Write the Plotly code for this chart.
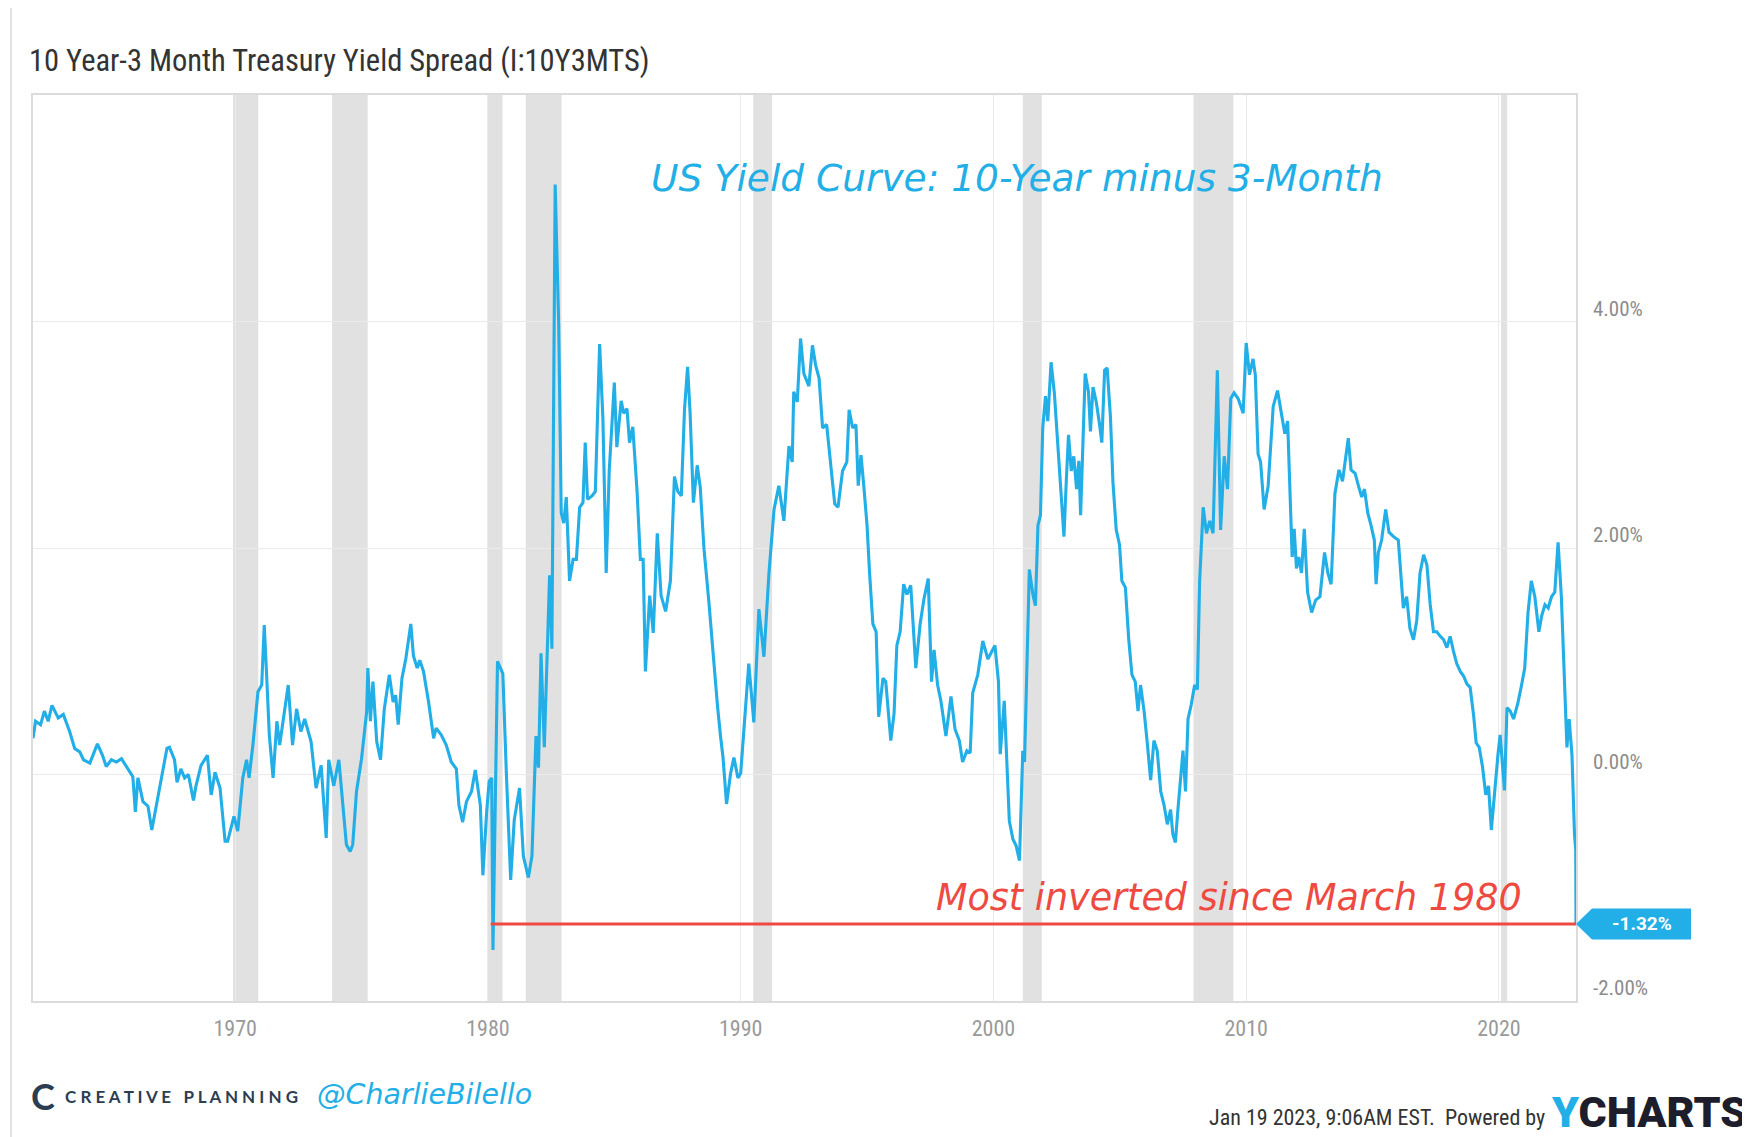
import datetime as dt
import plotly.graph_objects as go

# ---------------- data ----------------
YEARS = [
    1962.0, 1962.1, 1962.3, 1962.45, 1962.6, 1962.75, 1963.0, 1963.2, 1963.45, 1963.65, 1963.85,
    1964.0, 1964.25, 1964.55, 1964.75, 1964.9, 1965.1, 1965.3, 1965.5, 1965.75, 1965.95, 1966.05,
    1966.15, 1966.35, 1966.55, 1966.7, 1966.95, 1967.3, 1967.4, 1967.6, 1967.7, 1967.85, 1968.0,
    1968.15, 1968.35, 1968.45, 1968.65, 1968.9, 1969.05, 1969.2, 1969.4, 1969.6, 1969.7, 1969.95,
    1970.1, 1970.3, 1970.45, 1970.55, 1970.7, 1970.9, 1971.05, 1971.15, 1971.25, 1971.35, 1971.5,
    1971.65,
    1971.76, 1972.1, 1972.27, 1972.43, 1972.6, 1972.75, 1973.0, 1973.2, 1973.4, 1973.6, 1973.7,
    1973.9, 1974.1, 1974.3, 1974.4, 1974.55, 1974.65, 1974.8, 1975.0, 1975.2, 1975.25, 1975.35,
    1975.45, 1975.6, 1975.75, 1975.9, 1976.1, 1976.25, 1976.35, 1976.45, 1976.6, 1976.75, 1976.95,
    1977.05, 1977.2, 1977.3, 1977.45, 1977.65, 1977.85, 1977.95, 1978.15, 1978.35, 1978.55,
    1978.75, 1978.85, 1979.0, 1979.15, 1979.35, 1979.5, 1979.7, 1979.8, 1979.95, 1980.05,
    1980.15, 1980.2, 1980.38, 1980.59, 1980.73, 1980.9, 1981.04, 1981.25, 1981.4, 1981.6, 1981.74,
    1981.9, 1982.0, 1982.1, 1982.23, 1982.33, 1982.44, 1982.53, 1982.66, 1982.8, 1982.9, 1983.0,
    1983.1, 1983.23, 1983.37, 1983.5, 1983.63, 1983.76, 1983.85, 1983.94, 1984.12, 1984.25,
    1984.42, 1984.55, 1984.68, 1984.8, 1985.0, 1985.1, 1985.27, 1985.37, 1985.5, 1985.6, 1985.73,
    1985.9, 1986.03, 1986.14, 1986.23, 1986.4, 1986.54, 1986.7, 1986.85, 1987.03, 1987.22,
    1987.38, 1987.51, 1987.65, 1987.78, 1987.9, 1988.0, 1988.13, 1988.28, 1988.4, 1988.55,
    1988.74, 1988.92, 1989.08, 1989.2, 1989.3, 1989.44, 1989.6, 1989.73, 1989.89,
    1990.0, 1990.15, 1990.32, 1990.52, 1990.72, 1990.92, 1991.12, 1991.32, 1991.51, 1991.71,
    1991.91, 1992.04, 1992.1, 1992.24, 1992.37, 1992.5, 1992.7, 1992.84, 1992.97, 1993.1,
    1993.24, 1993.4, 1993.56, 1993.72, 1993.85, 1994.03, 1994.2, 1994.29, 1994.43, 1994.56,
    1994.65, 1994.76, 1994.87, 1995.0, 1995.1, 1995.23, 1995.36, 1995.46, 1995.63, 1995.74,
    1995.94, 1996.07, 1996.18, 1996.31, 1996.45, 1996.58, 1996.73, 1996.93, 1997.1, 1997.25,
    1997.42, 1997.55, 1997.65, 1997.79, 1997.92, 1998.12, 1998.32, 1998.48, 1998.65, 1998.78,
    1998.95, 1999.08, 1999.18, 1999.38, 1999.58, 1999.78, 1999.9,
    2000.06, 2000.2, 2000.27, 2000.43, 2000.54, 2000.63, 2000.77, 2000.9, 2001.03, 2001.16,
    2001.23, 2001.29, 2001.42, 2001.56, 2001.66, 2001.76, 2001.86, 2001.95, 2002.06, 2002.15,
    2002.28, 2002.41, 2002.55, 2002.68, 2002.79, 2002.88, 2002.97, 2003.08, 2003.18, 2003.29,
    2003.38, 2003.45, 2003.54, 2003.63, 2003.76, 2003.84, 2003.94, 2004.07, 2004.2, 2004.29,
    2004.4, 2004.5, 2004.63, 2004.73, 2004.86, 2004.99, 2005.08, 2005.22, 2005.35, 2005.48,
    2005.61, 2005.72, 2005.82, 2005.96, 2006.09, 2006.22, 2006.35, 2006.48, 2006.62, 2006.75,
    2006.88, 2007.01, 2007.1, 2007.2, 2007.3, 2007.41, 2007.5, 2007.6, 2007.7, 2007.83, 2007.96,
    2008.07, 2008.16, 2008.3, 2008.43, 2008.56, 2008.69, 2008.86, 2008.99, 2009.13, 2009.26,
    2009.39, 2009.52, 2009.68, 2009.88,
    2010.0, 2010.13, 2010.27, 2010.36, 2010.47, 2010.57, 2010.71, 2010.87, 2011.07, 2011.24,
    2011.4, 2011.53, 2011.64, 2011.73, 2011.82, 2011.9, 2011.99, 2012.08, 2012.19, 2012.3,
    2012.43, 2012.59, 2012.75, 2012.92, 2013.1, 2013.23, 2013.36, 2013.51, 2013.67, 2013.81,
    2013.91, 2014.04, 2014.15, 2014.31, 2014.44, 2014.57, 2014.68, 2014.81, 2014.94, 2015.07,
    2015.14, 2015.23, 2015.36, 2015.52, 2015.65, 2015.83, 2016.02, 2016.13, 2016.22, 2016.35,
    2016.48, 2016.62, 2016.75, 2016.88, 2017.02, 2017.15, 2017.28, 2017.41, 2017.54, 2017.68,
    2017.81, 2017.94, 2018.07, 2018.2, 2018.33, 2018.47, 2018.6, 2018.73, 2018.86, 2019.0,
    2019.1, 2019.22, 2019.35, 2019.48, 2019.59, 2019.7, 2019.83, 2019.96, 2020.05, 2020.15,
    2020.22, 2020.32, 2020.45, 2020.58, 2020.75, 2020.88, 2021.02, 2021.15, 2021.28, 2021.42,
    2021.58, 2021.69, 2021.82, 2021.95, 2022.08, 2022.21, 2022.34, 2022.47, 2022.6, 2022.69,
    2022.78, 2022.89, 2022.99, 2023.04, 2023.05,
]

SPREAD = [
    0.32, 0.47, 0.44, 0.56, 0.47, 0.61, 0.50, 0.53, 0.38, 0.23, 0.20,
    0.13, 0.10, 0.27, 0.17, 0.07, 0.13, 0.11, 0.14, 0.05, -0.02, -0.33,
    -0.03, -0.24, -0.28, -0.49, -0.18, 0.23, 0.24, 0.13, -0.07, 0.05, -0.03,
    0.00, -0.23, -0.10, 0.08, 0.17, -0.18, 0.02, -0.12, -0.59, -0.59, -0.37,
    -0.50, -0.03, 0.13, -0.03, 0.26, 0.73, 0.79, 1.32, 0.85, 0.35, -0.03,
    0.47,
    0.26, 0.79, 0.26, 0.58, 0.38, 0.49, 0.29, -0.12, 0.08, -0.56, 0.13,
    -0.10, 0.13, -0.39, -0.62, -0.68, -0.62, -0.15, 0.14, 0.55, 0.94, 0.47,
    0.82, 0.29, 0.13, 0.58, 0.88, 0.64, 0.70, 0.44, 0.85, 1.02, 1.33,
    1.05, 0.94, 1.01, 0.91, 0.64, 0.32, 0.41, 0.35, 0.26, 0.11,
    0.05, -0.27, -0.42, -0.24, -0.15, 0.04, -0.27, -0.89, -0.33, -0.06,
    -0.03, -1.55, 1.00, 0.89, 0.01, -0.93, -0.40, -0.12, -0.72, -0.91, -0.72,
    0.34, 0.06, 1.07, 0.24, 1.07, 1.76, 1.11, 5.21, 3.97, 2.31, 2.22,
    2.45, 1.71, 1.90, 1.90, 2.36, 2.40, 2.93, 2.43, 2.46, 2.50,
    3.80, 3.14, 1.78, 2.68, 3.46, 2.89, 3.30, 3.19, 3.23, 2.93, 3.07,
    2.50, 1.90, 1.90, 0.91, 1.58, 1.25, 2.13, 1.58, 1.44, 1.71,
    2.63, 2.50, 2.46, 3.23, 3.60, 3.19, 2.40, 2.73, 2.54, 1.99,
    1.53, 1.02, 0.61, 0.34, 0.15, -0.26, 0.01, 0.15, -0.03,
    0.01, 0.49, 0.98, 0.46, 1.46, 1.04, 1.78, 2.34, 2.55, 2.24,
    2.90, 2.76, 3.38, 3.29, 3.85, 3.54, 3.43, 3.79, 3.61, 3.50,
    3.06, 3.09, 2.74, 2.39, 2.36, 2.68, 2.76, 3.22, 3.06, 3.09,
    2.55, 2.82, 2.55, 2.20, 1.78, 1.33, 1.26, 0.51, 0.85, 0.82,
    0.30, 0.54, 1.14, 1.26, 1.68, 1.59, 1.67, 0.94, 1.33, 1.55,
    1.73, 0.82, 1.10, 0.79, 0.65, 0.34, 0.69, 0.40, 0.30, 0.11,
    0.21, 0.19, 0.72, 0.88, 1.18, 1.02, 1.07,
    1.14, 0.82, 0.18, 0.65, 0.08, -0.41, -0.57, -0.63, -0.76, 0.21,
    0.11, 0.69, 1.81, 1.59, 1.49, 2.20, 2.29, 3.06, 3.34, 3.12,
    3.64, 3.37, 2.93, 2.48, 2.10, 2.58, 3.00, 2.68, 2.81, 2.52,
    2.77, 2.29, 2.97, 3.54, 3.38, 3.03, 3.42, 3.29, 3.09, 2.93,
    3.57, 3.59, 3.16, 2.58, 2.16, 2.03, 1.71, 1.65, 1.20, 0.88,
    0.82, 0.56, 0.79, 0.56, 0.27, -0.05, 0.30, 0.21, -0.15, -0.27,
    -0.44, -0.31, -0.53, -0.60, -0.31, -0.05, 0.21, -0.15, 0.49, 0.62, 0.79,
    0.75, 1.71, 2.36, 2.13, 2.24, 2.13, 3.57, 2.16, 2.81, 2.52,
    3.32, 3.37, 3.32, 3.19,
    3.81, 3.53, 3.67, 3.53, 2.83, 2.76, 2.34, 2.55, 3.25, 3.39,
    3.18, 3.01, 3.12, 2.52, 1.92, 2.17, 1.82, 1.92, 1.78, 2.17,
    1.61, 1.43, 1.54, 1.57, 1.96, 1.78, 1.68, 2.48, 2.69, 2.59,
    2.76, 2.97, 2.69, 2.66, 2.55, 2.45, 2.52, 2.31, 2.20, 2.07,
    1.68, 1.96, 2.07, 2.34, 2.14, 2.10, 2.07, 1.78, 1.47, 1.57,
    1.29, 1.19, 1.36, 1.78, 1.94, 1.85, 1.50, 1.26, 1.26, 1.22,
    1.19, 1.12, 1.22, 1.09, 0.98, 0.91, 0.87, 0.80, 0.77, 0.52,
    0.28, 0.24, 0.07, -0.18, -0.10, -0.49, -0.14, 0.17, 0.35, 0.07,
    -0.14, 0.59, 0.56, 0.49, 0.63, 0.77, 0.94, 1.43, 1.71, 1.57,
    1.26, 1.40, 1.50, 1.47, 1.57, 1.61, 2.05, 1.57, 0.87, 0.24,
    0.49, 0.17, -0.53, -0.67, -1.32,
]

RECESSION_START = ["1969-12-01", "1973-11-01", "1980-01-01", "1981-07-01",
                   "1990-07-01", "2001-03-01", "2007-12-01", "2020-02-01"]
RECESSION_END = ["1970-11-30", "1975-03-31", "1980-07-31", "1982-11-30",
                 "1991-03-31", "2001-11-30", "2009-06-30", "2020-04-30"]

Y_TICKS = [-2, 0, 2, 4]
X_TICK_YEARS = [1970, 1980, 1990, 2000, 2010, 2020]
RED_LINE_START = "1980-02-10"

TITLE = "10 Year-3 Month Treasury Yield Spread (I:10Y3MTS)"
NOTE_TOP = "US Yield Curve: 10-Year minus 3-Month"
NOTE_RED = "Most inverted since March 1980"


def to_date(y):
    base = dt.datetime(int(y), 1, 1)
    return base + dt.timedelta(days=(y - int(y)) * 365.25)


DATES = [to_date(y) for y in YEARS]

# ---------------- layout helpers (page pixel -> paper) ----------------
OFF = 8                      # default page body margin
W, H = 1742, 1129
ML, MR, MT, MB = 25, 174, 87, 136
PW, PH = W - ML - MR, H - MT - MB
LEFT, BOTTOM = OFF + ML, OFF + H - MB


def PX(x):
    return (x - LEFT) / PW


def PY(y):
    return (BOTTOM - y) / PH


CYAN = "#22aee6"
RED = "#ee4a42"
GRID = "#ebebeb"
NARROW = "Liberation Sans Narrow, Roboto Condensed, Roboto"
HAND = "DejaVu Sans"

fig = go.Figure()

fig.add_trace(go.Scatter(
    x=DATES, y=SPREAD, mode="lines",
    line=dict(color=CYAN, width=3.1),
    hoverinfo="skip", showlegend=False,
))

fig.add_trace(go.Scatter(
    x=[RED_LINE_START, DATES[-1]], y=[SPREAD[-1], SPREAD[-1]], mode="lines",
    line=dict(color=RED, width=3.2),
    hoverinfo="skip", showlegend=False,
))

shapes = []
for s, e in zip(RECESSION_START, RECESSION_END):
    shapes.append(dict(type="rect", xref="x", yref="paper", x0=s, x1=e, y0=0, y1=1,
                       fillcolor="#e1e1e1", line=dict(width=0), layer="below"))

# outer frame of the card
shapes.append(dict(type="rect", xref="paper", yref="paper",
                   x0=PX(11), x1=PX(1770), y0=PY(5), y1=PY(1160),
                   line=dict(color="#d9d9d9", width=1.5), fillcolor="rgba(0,0,0,0)"))

# last-value callout (arrow box)
shapes.append(dict(type="path", xref="paper", yref="y",
                   xsizemode="pixel", ysizemode="pixel",
                   xanchor=1, yanchor=SPREAD[-1],
                   path="M 0 0 L 16 15.5 L 115 15.5 L 115 -15.5 L 16 -15.5 Z",
                   fillcolor=CYAN, line=dict(width=0)))

annotations = [
    dict(xref="paper", yref="paper", x=PX(27), y=PY(61), xanchor="left", yanchor="middle",
         text=TITLE, showarrow=False,
         font=dict(family=NARROW, size=30.5, color="#333333")),
    dict(xref="paper", yref="paper", x=PX(1017), y=PY(178), xanchor="center", yanchor="middle",
         text=NOTE_TOP, showarrow=False,
         font=dict(family=HAND, size=37.5, color=CYAN, style="italic")),
    dict(xref="paper", yref="y", x=PX(1229), y=SPREAD[-1], xanchor="center", yanchor="bottom",
         yshift=3, text=NOTE_RED, showarrow=False,
         font=dict(family=HAND, size=36.5, color=RED, style="italic")),
    dict(xref="paper", yref="y", x=1, y=SPREAD[-1], xanchor="center", yanchor="middle",
         xshift=66, text="<b>%.2f%%</b>" % SPREAD[-1], showarrow=False,
         font=dict(family="Roboto", size=19, color="white")),
    # footer
    dict(xref="paper", yref="paper", x=PX(29), y=PY(1096), xanchor="left", yanchor="middle",
         text="<b>C</b>", showarrow=False,
         font=dict(family="Lato", size=36, color="#2c3d52")),
    dict(xref="paper", yref="paper", x=PX(63), y=PY(1096), xanchor="left", yanchor="middle",
         text="<b>C R E A T I V E   P L A N N I N G</b>", showarrow=False,
         font=dict(family="Lato", size=17, color="#2c3d52")),
    dict(xref="paper", yref="paper", x=PX(315), y=PY(1094), xanchor="left", yanchor="middle",
         text="@CharlieBilello", showarrow=False,
         font=dict(family=HAND, size=28.5, color=CYAN, style="italic")),
    dict(xref="paper", yref="paper", x=PX(1547), y=PY(1117), xanchor="right", yanchor="middle",
         text="Jan 19 2023, 9:06AM EST.  Powered by", showarrow=False,
         font=dict(family=NARROW, size=22, color="#333333")),
    dict(xref="paper", yref="paper", x=PX(1549), y=PY(1112), xanchor="left", yanchor="middle",
         text="<span style='color:%s'>Y</span>CHARTS" % CYAN, showarrow=False,
         font=dict(family="Roboto", size=43, color="#1d1d2b", weight=900)),
]

fig.update_layout(
    width=W, height=H,
    margin=dict(l=ML, r=MR, t=MT, b=MB),
    paper_bgcolor="white", plot_bgcolor="white",
    shapes=shapes, annotations=annotations,
    showlegend=False,
)

fig.update_xaxes(
    type="date",
    range=[DATES[0], DATES[-1]],
    tickvals=["%d-01-01" % y for y in X_TICK_YEARS],
    ticktext=[str(y) for y in X_TICK_YEARS],
    showgrid=True, gridcolor=GRID, gridwidth=1,
    showline=True, linecolor="#dcdcdc", linewidth=1.5, mirror=True,
    ticks="", zeroline=False,
    tickfont=dict(family=NARROW, size=22, color="#9a9a9a"),
    ticklabelstandoff=7,
)

fig.update_yaxes(
    range=[-2, 6], side="right",
    tickvals=Y_TICKS, ticktext=["%.2f%%" % v for v in Y_TICKS],
    showgrid=True, gridcolor=GRID, gridwidth=1,
    showline=True, linecolor="#dcdcdc", linewidth=1.5, mirror=True,
    ticks="", zeroline=False,
    tickfont=dict(family=NARROW, size=21, color="#8c8c8c"),
    ticklabelstandoff=11, ticklabelshift=-13,
)

fig.write_html("out.html")
